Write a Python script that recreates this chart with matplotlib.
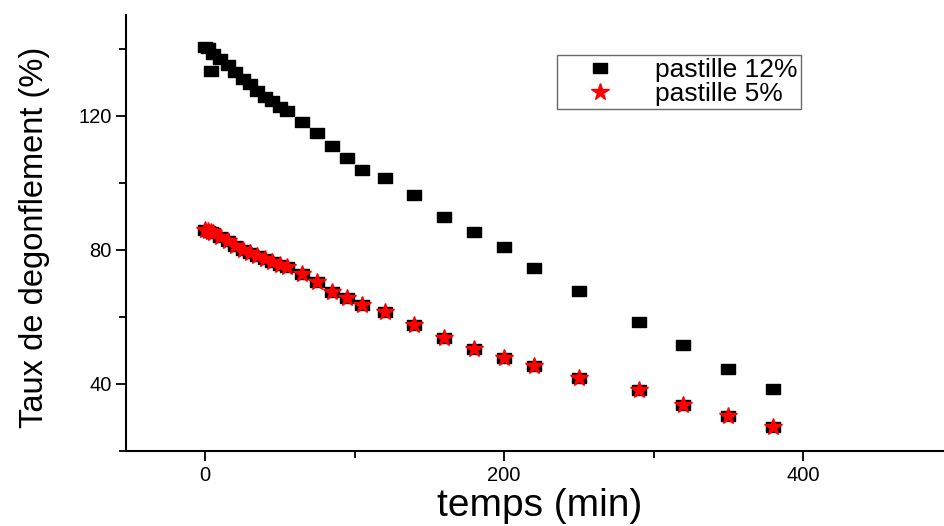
import matplotlib
matplotlib.use("Agg")
import matplotlib.pyplot as plt
from matplotlib.path import Path
from matplotlib.ticker import MultipleLocator

# temps (min) / taux de degonflement (%)
t_12 = [0, 2, 4, 5, 10, 15, 20, 25, 30, 35, 40, 45, 50, 55, 65, 75, 85, 95,
        105, 120, 140, 160, 180, 200, 220, 250, 290, 320, 350, 380]
taux_12 = [140.5, 140.2, 133.4, 138.3, 136.8, 135.2, 132.9, 130.9, 129.4, 127.2,
           125.4, 124.3, 122.7, 121.3, 118.2, 114.9, 110.9, 107.4, 103.9, 101.5,
           96.2, 89.7, 85.3, 80.8, 74.7, 67.7, 58.4, 51.5, 44.4, 38.5]

t_5 = [0, 2, 4, 5, 10, 15, 20, 25, 30, 35, 40, 45, 50, 55, 65, 75, 85, 95,
       105, 120, 140, 160, 180, 200, 220, 250, 290, 320, 350, 380]
taux_5 = [86.0, 85.6, 85.2, 84.9, 83.8, 82.6, 81.2, 79.8, 78.9, 78.0, 77.2, 76.4,
          75.6, 74.9, 72.7, 70.3, 67.4, 65.6, 63.4, 61.4, 57.5, 53.8, 50.5, 47.8,
          45.4, 41.7, 38.1, 33.8, 30.5, 27.2]

ARIAL = ["Liberation Sans", "DejaVu Sans"]

# wide square marker (the original figure is stretched horizontally)
rect = Path([(-1.3, -1), (1.3, -1), (1.3, 1), (-1.3, 1), (-1.3, -1)],
            [Path.MOVETO, Path.LINETO, Path.LINETO, Path.LINETO, Path.CLOSEPOLY])

fig = plt.figure(figsize=(9.45, 5.26), dpi=100)
ax = fig.add_axes([0.1333, 0.1426, 0.8667, 0.8289])

ax.plot(t_12, taux_12, linestyle="none", marker=rect, markersize=9.5,
        color="black", label="pastille 12%")
ax.plot(t_5, taux_5, linestyle="none", marker=rect, markersize=9.5,
        color="black")
ax.plot(t_5, taux_5, linestyle="none", marker="*", markersize=13,
        color="red", markeredgecolor="red", label="pastille 5%")

ax.set_xlim(-53, 495)
ax.set_ylim(20, 150)

ax.xaxis.set_major_locator(MultipleLocator(200))
ax.xaxis.set_minor_locator(MultipleLocator(100))
ax.yaxis.set_major_locator(MultipleLocator(40))
ax.yaxis.set_minor_locator(MultipleLocator(20))

for s in ["top", "right"]:
    ax.spines[s].set_visible(False)
for s in ["left", "bottom"]:
    ax.spines[s].set_linewidth(1.5)

ax.tick_params(which="major", direction="out", length=7, width=1.3,
               labelsize=14.5)
ax.tick_params(which="minor", direction="out", length=5, width=1.3)
for lab in ax.get_xticklabels() + ax.get_yticklabels():
    lab.set_family(ARIAL)

ax.set_xlabel("temps (min)", fontsize=28, family=ARIAL)
ax.xaxis.set_label_coords(0.5055, -0.085)
ax.set_ylabel("Taux de degonflement (%)", fontsize=23.5, family=ARIAL)
ax.yaxis.set_label_coords(-0.093, 0.489)

leg = ax.legend(loc="upper left", bbox_to_anchor=(0.526, 0.908),
                frameon=True, fancybox=False, edgecolor="#444444",
                prop={"family": ARIAL, "size": 19}, handletextpad=0.6,
                borderpad=0.12, labelspacing=0.0, handlelength=3.0,
                borderaxespad=0)
leg.get_frame().set_linewidth(1.0)

fig.savefig("out.png", dpi=100, facecolor="white")
